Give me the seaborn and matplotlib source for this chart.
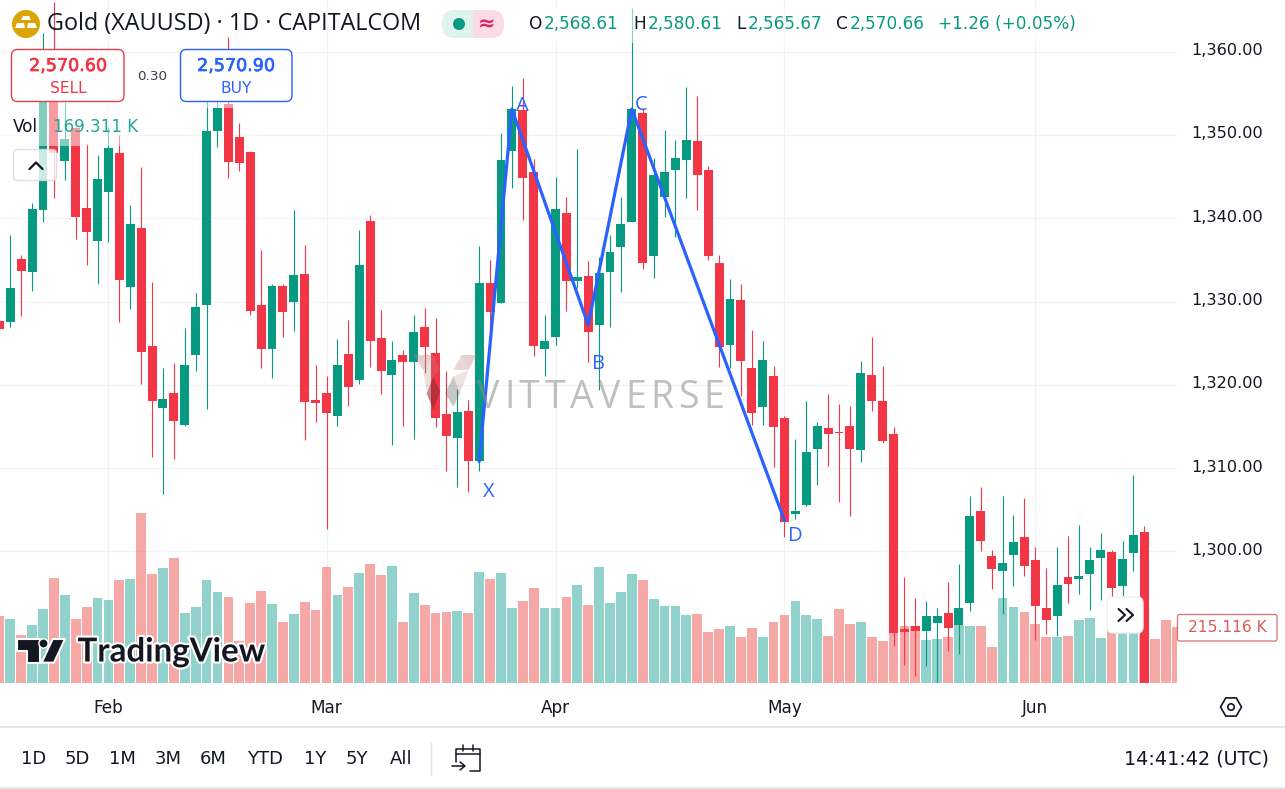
import numpy as np
import pandas as pd
import matplotlib
matplotlib.use("Agg")
import matplotlib.pyplot as plt
import matplotlib.patheffects as pe
from matplotlib.patches import FancyBboxPatch, Circle, Polygon, Rectangle
from matplotlib.transforms import ScaledTranslation
import seaborn as sns

# ---- data ----
first_day = -1
candle_dir = list("RGRGGRGRRG" "GRGRRGRGGG" "GRRRRGRGRR" "RGRGRRGRGR" "RRGRGRGGRR"
                  "GGRGRGGGGR" "GGGGRRRGRR" "GRRGGGRRRG" "RRRRRGGRGG" "RRGGRRRGRG" "GGRGGR")
candle_high = [1328, 1338, 1335.6, 1341.8, 1362.2, 1366, 1354, 1351, 1348.9, 1347.6,
               1351, 1350, 1341.6, 1346.1, 1332.3, 1322, 1322.6, 1326.8, 1331, 1356,
               1355, 1361.7, 1351.4, 1348.1, 1336.2, 1332.1, 1332.1, 1341, 1336.8, 1322.4,
               1321.1, 1325.5, 1327.8, 1338.6, 1340.4, 1329, 1325.3, 1324.2, 1328.4, 1329.2,
               1328, 1321.7, 1319.5, 1318.2, 1336.7, 1335, 1350.2, 1355.9, 1356.8, 1347.1,
               1328.4, 1344.9, 1342.6, 1348.3, 1334.9, 1335.4, 1338, 1342.6, 1365.2, 1353.2,
               1347.2, 1350.6, 1349.4, 1355.7, 1354.7, 1346.3, 1335.6, 1332.7, 1332.1, 1326.6,
               1325.3, 1322.3, 1316.3, 1313.5, 1318, 1315.5, 1318.9, 1317.7, 1317.4, 1322.8,
               1325.8, 1322.3, 1314.9, 1296.9, 1294.4, 1294.1, 1293.2, 1296.3, 1298.5, 1306.6,
               1307.7, 1300.2, 1306.6, 1304.4, 1306.4, 1300.5, 1298, 1300.5, 1301.8, 1303.2,
               1300.5, 1302.2, 1300.2, 1301.2, 1309.2, 1303]
candle_top = [1327.7, 1331.6, 1335.1, 1341.1, 1355, 1356, 1349.5, 1350.8, 1341.2, 1344.7,
              1348.4, 1347.8, 1339.3, 1338.8, 1324.7, 1318.3, 1319, 1322.4, 1329.4, 1350.5,
              1353.2, 1353.7, 1349.8, 1347.9, 1329.6, 1331.9, 1331.9, 1333.2, 1333.3, 1318.2,
              1319, 1322.4, 1323.7, 1334.4, 1339.7, 1325.6, 1323, 1323.6, 1326.3, 1326.9,
              1323.8, 1316.5, 1316.7, 1316.9, 1332.2, 1332.2, 1347, 1353.1, 1353, 1345.6,
              1325.3, 1341.1, 1340.6, 1333, 1333.1, 1333.4, 1336, 1339.3, 1353.1, 1352.6,
              1345.2, 1345.6, 1347.2, 1349.4, 1349.3, 1345.8, 1334.6, 1330.3, 1330.2, 1322,
              1323, 1321.1, 1316, 1304.8, 1311.9, 1315, 1314.8, 1314.3, 1315, 1321.4,
              1321.2, 1318.1, 1314.1, 1290.7, 1291, 1292.2, 1292.2, 1292.6, 1293.2, 1304.3,
              1304.8, 1299.4, 1298.6, 1301.1, 1301.7, 1299, 1293.2, 1296, 1296.9, 1297,
              1299, 1300.2, 1299.9, 1299.1, 1302, 1302.3]
candle_bottom = [1326.7, 1327.6, 1333.7, 1333.5, 1341, 1347.8, 1346.9, 1340.1, 1338.3, 1337.3,
                 1343.2, 1332.6, 1331.7, 1323.9, 1318, 1317.2, 1315.7, 1315.2, 1323.6, 1329.6,
                 1350.5, 1346.8, 1346.6, 1328.9, 1324.3, 1324.3, 1328.7, 1329.9, 1317.9, 1317.8,
                 1316.6, 1316.2, 1319.7, 1320.6, 1325.3, 1321.6, 1321.2, 1322.7, 1322.7, 1324.5,
                 1316, 1313.8, 1313.6, 1310.9, 1310.8, 1328.8, 1329.8, 1348.1, 1344.8, 1324.7,
                 1324.3, 1325.8, 1332.5, 1332.5, 1326.3, 1327.2, 1333.5, 1336.6, 1339.6, 1334.6,
                 1335.5, 1342.6, 1345.8, 1347, 1345.2, 1335.5, 1324.5, 1324.8, 1322.8, 1316.6,
                 1317.3, 1314.9, 1303.5, 1304.5, 1305.6, 1312.3, 1314.1, 1314.2, 1312.3, 1312.2,
                 1318, 1313.2, 1290.2, 1290.3, 1290.5, 1290.5, 1291.4, 1290.8, 1291.2, 1293.8,
                 1301.3, 1297.9, 1297.7, 1299.6, 1298.2, 1293.4, 1291.8, 1292.2, 1296.1, 1296.7,
                 1297.3, 1299.2, 1295.6, 1295.8, 1299.8, 1284]
candle_low = [1326.5, 1326.9, 1328.3, 1331.3, 1339.6, 1342.4, 1344.6, 1337.5, 1334.4, 1332.1,
              1337.2, 1327.5, 1329.1, 1320.1, 1311.3, 1306.9, 1311.1, 1315, 1321.6, 1317.1,
              1348.5, 1344.8, 1345.7, 1328.4, 1322, 1320.8, 1325.8, 1326.5, 1313.4, 1315.5,
              1302.7, 1315.1, 1317.4, 1320.1, 1322.1, 1318.9, 1312.8, 1315, 1313.5, 1321.4,
              1314.9, 1309.6, 1307.7, 1307.1, 1309.7, 1326.8, 1329.8, 1343.6, 1339.8, 1323.4,
              1321, 1324.8, 1328.9, 1331.6, 1322.7, 1319.4, 1326.9, 1331.1, 1339.6, 1333.9,
              1332.8, 1340.2, 1337.7, 1342.4, 1341, 1335, 1322.1, 1322, 1318.7, 1315.2,
              1315.2, 1310.1, 1301.7, 1303.9, 1305.4, 1308, 1310.2, 1305.9, 1304.2, 1310.7,
              1316.9, 1313, 1288.7, 1286.4, 1285.1, 1286.2, 1284, 1288, 1287.7, 1292.8,
              1300, 1295.5, 1292.5, 1295.8, 1297.1, 1289.4, 1290.1, 1289.8, 1293.8, 1294.9,
              1293, 1294.2, 1294.4, 1294.6, 1297.6, 1284]
volume_k = [257, 246, 184, 223, 284, 404, 339, 246, 292, 327,
            319, 396, 400, 655, 420, 443, 481, 269, 292, 396,
            350, 331, 161, 308, 354, 304, 234, 265, 312, 281,
            447, 339, 369, 423, 458, 416, 451, 234, 346, 300,
            269, 273, 277, 269, 427, 400, 423, 288, 315, 366,
            288, 288, 331, 377, 300, 447, 308, 350, 420, 396,
            323, 296, 296, 261, 265, 196, 207, 219, 176, 211,
            176, 234, 261, 315, 261, 246, 180, 284, 227, 234,
            176, 161, 250, 219, 219, 165, 169, 176, 223, 219,
            219, 138, 327, 292, 273, 227, 176, 176, 180, 242,
            250, 173, 203, 229, 229, 191, 169.311, 242, 215.116]
volume_extra_dir = list("RRR")
month_days = [9, 29, 50, 71, 94]
month_names = ["Feb", "Mar", "Apr", "May", "Jun"]
price_ticks = [1300, 1310, 1320, 1330, 1340, 1350, 1360]
pattern_day = [43, 46, 53, 57, 71]
pattern_price = [1310.8, 1353.1, 1327.2, 1353.1, 1303.7]
range_buttons = ["1D", "5D", "1M", "3M", "6M", "YTD", "1Y", "5Y", "All"]

GREEN, RED = "#089981", "#F23645"
VOL_G, VOL_R = "#26A69A", "#EF5350"
BLUE = "#2962FF"
INK = "#131722"

sns.set_theme(style="white")
plt.rcParams["font.family"] = ["DejaVu Sans"]

W, H = 1285, 789
PANE_R, PANE_B = 1176.5, 683
rect = [0, (H - PANE_B) / H, PANE_R / W, PANE_B / H]
fig = plt.figure(figsize=(W / 100, H / 100), dpi=100, facecolor="white")

# layer 0: price scale and grid
ax = fig.add_axes(rect, facecolor="white", zorder=0)
# layer 1: volume
axv = fig.add_axes(rect, sharex=ax, facecolor="none", zorder=1)
# layer 2: candles
axc = fig.add_axes(rect, sharex=ax, sharey=ax, facecolor="none", zorder=2)

n = len(candle_dir)
days = np.arange(first_day, first_day + n)
cdf = pd.DataFrame({"day": days, "dir": candle_dir, "high": candle_high, "top": candle_top,
                    "bottom": candle_bottom, "low": candle_low})
vdf = pd.DataFrame({"day": np.arange(first_day, first_day + len(volume_k)),
                    "dir": candle_dir + volume_extra_dir, "vol": volume_k})

sns.barplot(data=vdf, x="day", y="vol", hue="dir", palette={"G": VOL_G, "R": VOL_R}, native_scale=True,
            dodge=False, width=0.895, saturation=1, alpha=0.5, linewidth=0, errorbar=None, legend=False, ax=axv)
axv.set_ylim(0, PANE_B * 3.86)

for key, col in (("G", GREEN), ("R", RED)):
    part = cdf[cdf["dir"] == key]
    axc.vlines(part["day"], part["low"], part["high"], color=col, lw=0.8, zorder=2)
    sns.barplot(x=part["day"].to_numpy(), y=(part["top"] - part["bottom"]).to_numpy(),
                bottom=part["bottom"].to_numpy(), native_scale=True, color=col, saturation=1,
                width=0.82, linewidth=0, errorbar=None, zorder=3, ax=axc)

sns.lineplot(x=pattern_day, y=pattern_price, sort=False, estimator=None, color=BLUE, lw=2.3,
             ax=axc, zorder=6, legend=False)

ax.set_xlim(-0.9446, 106.95)
ax.set_ylim(1284.2, 1366.2)
ax.yaxis.tick_right()
ax.set_yticks(price_ticks)
ax.set_yticklabels([f"{p:,.2f}" for p in price_ticks])
ax.set_xticks(month_days)
ax.set_xticklabels(month_names)
ax.grid(True, color="#f1f2f5", lw=0.9)
ax.set_axisbelow(True)
ax.tick_params(axis="y", length=0, pad=10.4, labelsize=11.65, labelcolor=INK, labelright=True, labelleft=False)
ax.tick_params(axis="x", length=0, pad=11.2, labelsize=12.2, labelcolor=INK)
up = ScaledTranslation(0, 2.5 / 100, fig.dpi_scale_trans)
for tick in ax.yaxis.get_major_ticks():
    tick.label2.set_transform(tick.label2.get_transform() + up)
for a in (ax, axv, axc):
    a.set_xlabel("")
    a.set_ylabel("")
    for s in a.spines.values():
        s.set_visible(False)
axv.axis("off")
axc.axis("off")

# overlay in pixels for the chart's chrome
ov = fig.add_axes([0, 0, 1, 1], facecolor="none", zorder=5)
ov.set_xlim(0, W)
ov.set_ylim(H, 0)
ov.axis("off")


def txt(x, y, s, size=12, color=INK, ha="left", va="center", **kw):
    return ov.text(x, y, s, fontsize=size, color=color, ha=ha, va=va, **kw)


def box(x0, y0, x1, y1, r=6, fc="white", ec="none", lw=1, alpha=None, z=3):
    p = FancyBboxPatch((x0 + r, y0 + r), x1 - x0 - 2 * r, y1 - y0 - 2 * r, boxstyle=f"round,pad={r}",
                       fc=fc, ec=ec, lw=lw, alpha=alpha, zorder=z)
    ov.add_patch(p)
    return p


# veils of the legend over the candles
ov.add_patch(Rectangle((430, 8), 650, 35, fc="white", alpha=0.55, ec="none", zorder=1))
ov.add_patch(Rectangle((0, 102), 142, 44, fc="white", alpha=0.5, ec="none", zorder=1))
ov.add_patch(Rectangle((200, 102), 40, 6, fc="white", alpha=0.5, ec="none", zorder=1))

# watermark
WM = lambda pts: [(405 + px / 3, 345 + py / 3) for px, py in pts]
for pts, col, al in [
    ([(25, 30), (85, 30), (55, 75)], "#b98a8a", 0.38),
    ([(55, 75), (85, 30), (105, 75), (85, 95), (65, 140)], "#b98a8a", 0.28),
    ([(85, 95), (105, 140), (85, 195), (65, 145)], "#8a2a30", 0.55),
    ([(170, 30), (215, 30), (190, 75)], "#b98a8a", 0.38),
    ([(145, 75), (170, 30), (190, 75)], "#b98a8a", 0.34),
    ([(120, 145), (145, 95), (165, 145), (145, 185)], "#606060", 0.35),
    ([(145, 95), (190, 75), (165, 145)], "#b98a8a", 0.25),
]:
    ov.add_patch(Polygon(WM(pts), closed=True, fc=col, ec="none", alpha=al, zorder=1.5))
# letter-spaced wordmark
renderer = fig.canvas.get_renderer()
wm_x = 477.0
for ch in "VITTAVERSE":
    t = txt(wm_x, 398, ch, size=27, color="#8c8c8c", alpha=0.55, family="Open Sans", zorder=1.5)
    wm_x += t.get_window_extent(renderer).width + 4.6

# header
ov.add_patch(Circle((26, 24), 14, fc="#D9A404", ec="none", zorder=3))
for pts in ([(21, 20), (31, 20), (29, 16), (23, 16)], [(15, 28), (25, 28), (24, 23), (17, 23)],
            [(27, 28), (37, 28), (35, 23), (28, 23)]):
    ov.add_patch(Polygon(pts, closed=True, fc="white", ec="none", zorder=4))
txt(47, 24, "Gold (XAUUSD) · 1D · CAPITALCOM", size=16.8, family="Open Sans")
box(442, 10, 504, 38, r=13, fc="#DDF3EE", z=3)
ov.add_patch(Rectangle((473, 10), 18, 28, fc="#FBDCE6", ec="none", zorder=3.2))
box(478, 10, 504, 38, r=13, fc="#FBDCE6", z=3.1)
ov.add_patch(Circle((459, 24), 6, fc=GREEN, ec="none", zorder=4))
txt(487, 24, "≈", size=15, color="#E0245E", ha="center", weight="bold", zorder=4)
for x, s, c in [(529, "O", INK), (544, "2,568.61", GREEN), (633, "H", INK), (648, "2,580.61", GREEN),
                (736, "L", INK), (748, "2,565.67", GREEN), (836, "C", INK), (850, "2,570.66", GREEN),
                (938, "+1.26 (+0.05%)", GREEN)]:
    txt(x, 24, s, size=12.2, color=c)

# order boxes
box(11.5, 49.5, 124, 101.5, fc="white", ec="#E5404F", lw=1, z=3)
txt(68, 66, "2,570.60", size=12.6, color=RED, ha="center", zorder=4,
    path_effects=[pe.withStroke(linewidth=0.5, foreground=RED)])
txt(68, 88, "SELL", size=11.2, color=RED, ha="center", zorder=4)
txt(152, 76, "0.30", size=9.7, color="#3b3f4a", ha="center")
box(180.5, 49.5, 292, 101.5, fc="white", ec=BLUE, lw=1, z=3)
txt(236, 66, "2,570.90", size=12.6, color=BLUE, ha="center", zorder=4,
    path_effects=[pe.withStroke(linewidth=0.5, foreground=BLUE)])
txt(236, 88, "BUY", size=11.2, color=BLUE, ha="center", zorder=4)

# volume legend
txt(13, 127, "Vol", size=12.1, zorder=4)
txt(53, 127, "169.311 K", size=12.1, color=VOL_G, zorder=4)
box(13.5, 149.5, 56.5, 180.5, r=4, fc="white", ec="#d6d8de", lw=1, alpha=0.8, z=3)
ov.plot([29.5, 36, 42.5], [169, 162.5, 169], color=INK, lw=1.6, zorder=4)

# pattern letters
for x, y, s in [(522, 106, "A"), (641, 105, "C"), (489, 492, "X"), (598, 364, "B"), (795, 536, "D")]:
    txt(x, y, s, size=14.5, color=BLUE, ha="center", family="Open Sans", zorder=4)

# TradingView logo
halo = [pe.withStroke(linewidth=3, foreground="white")]
Z2 = lambda pts: [(px / 3, 340 + py / 3) for px, py in pts]
for pts in ([(50, 897), (120, 897), (120, 968), (82, 968), (82, 932), (50, 932)],
            [(158, 897), (195, 897), (162, 968), (125, 968)]):
    ov.add_patch(Polygon(Z2(pts), closed=True, fc=INK, ec="white", lw=1.5, joinstyle="round", zorder=4))
ov.add_patch(Circle((43.5, 643.5), 4.6, fc=INK, ec="white", lw=1, zorder=4))
txt(77.5, 652, "TradingView", size=23.8, family="Lato", weight="bold", color=INK, path_effects=halo, zorder=4)

# scroll button
box(1107, 597, 1143, 633, r=6, fc="white", ec="#eceef2", lw=1, z=3)
for dx in (0, 8):
    ov.plot([1118.5 + dx, 1125 + dx, 1118.5 + dx], [609, 615, 621], color=INK, lw=1.5, zorder=4)

# volume value tag
box(1177.5, 614.5, 1277, 641, r=2, fc="white", ec="#DD6E6E", lw=0.9, z=3)
txt(1227, 628, "215.116 K", size=11.2, color="#DD5A5A", ha="center", zorder=4)

# hexagon icon
ang = np.radians(np.arange(0, 360, 60))
ov.add_patch(Polygon(np.c_[1231 + 10.5 * np.cos(ang), 707 + 10.5 * np.sin(ang)], closed=True, fc="none", ec=INK, lw=1.2))
ov.add_patch(Circle((1231, 707), 3.2, fc="none", ec=INK, lw=1.2))

# bottom toolbar
ov.plot([0, W], [727, 727], color="#e0e3eb", lw=1.2)
ov.plot([0, W], [787.5, 787.5], color="#e0e3eb", lw=1.2)
for x, s in zip([34, 77, 122, 168, 213, 265, 315, 357, 401], range_buttons):
    txt(x, 759, s, size=13, ha="center")
ov.plot([431, 431], [743, 775], color="#e0e3eb", lw=1)
ov.plot([456, 456, 480, 480, 470], [762, 749, 749, 771, 771], color=INK, lw=1.1)
ov.plot([456, 480], [754, 754], color=INK, lw=1.1)
ov.plot([463, 463], [745, 751], color=INK, lw=1.1)
ov.plot([473, 473], [745, 751], color=INK, lw=1.1)
ov.plot([452, 464], [766, 766], color=INK, lw=1.1)
ov.plot([460, 465, 460], [762, 766, 770], color=INK, lw=1.1)
txt(1269, 759, "14:41:42 (UTC)", size=13.8, ha="right")

fig.savefig("out.png", dpi=100, facecolor="white")
